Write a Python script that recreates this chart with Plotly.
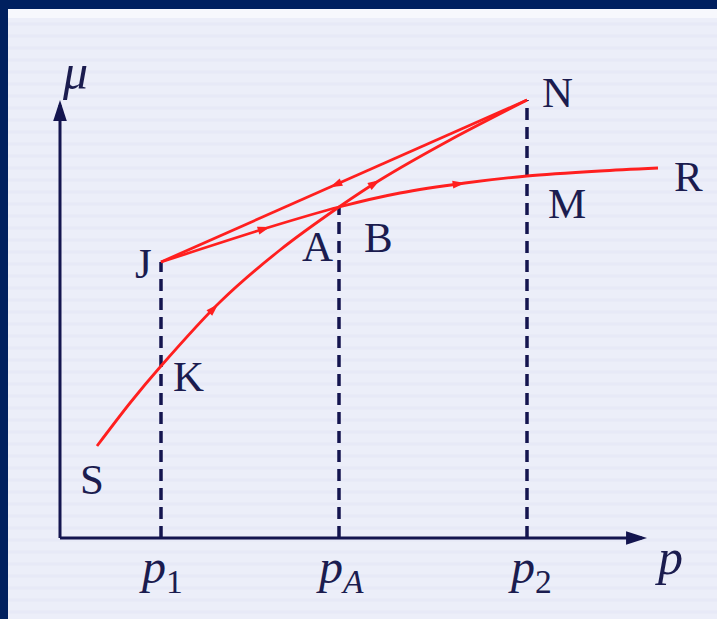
import math
import numpy as np
import plotly.graph_objects as go

# Chemical potential mu against pressure p (arbitrary units)
gas_p = [0.37, 0.70, 1.01, 1.60, 2.20, 2.79, 3.20, 3.90, 4.67]
gas_mu = [0.92, 1.35, 1.72, 2.36, 2.88, 3.31, 3.58, 3.98, 4.38]

liq_p = [1.01, 2.10, 2.79, 3.40, 4.05, 4.67, 5.40, 5.98]
liq_mu = [2.76, 3.11, 3.31, 3.45, 3.55, 3.62, 3.67, 3.70]

unst_p = [4.67, 1.01]
unst_mu = [4.38, 2.76]

# where the direction arrows sit on each branch
gas_arrow_p = [1.58, 3.20]
liq_arrow_p = [2.10, 4.05]
unst_arrow_p = [2.70]

# vertical guides down to the pressure axis
guide_p = [1.01, 2.79, 4.67]
guide_mu = [2.76, 3.31, 4.38]
tick_text = ["<i>p</i><sub>1</sub>", "<i>p<sub>A</sub></i>", "<i>p</i><sub>2</sub>"]

# axis extents
p_axis_end = 5.87
mu_axis_end = 4.38

NAVY = "#14154f"
RED = "#ff1f1f"
TEXT = "#1b1c4f"
SERIF = "Liberation Serif, Times New Roman, serif"

fig = go.Figure()

# dashed guides
for p, mu in zip(guide_p, guide_mu):
    fig.add_trace(go.Scatter(x=[p, p], y=[0, mu], mode="lines",
                             line=dict(color=NAVY, width=3.5, dash="12px,7px"),
                             hoverinfo="skip"))

# axes with arrow tips
fig.add_trace(go.Scatter(x=[0, p_axis_end - 0.05], y=[0, 0], mode="lines",
                         line=dict(color=NAVY, width=3), hoverinfo="skip"))
fig.add_trace(go.Scatter(x=[0, 0], y=[0, mu_axis_end - 0.05], mode="lines",
                         line=dict(color=NAVY, width=3), hoverinfo="skip"))
fig.add_trace(go.Scatter(x=[p_axis_end, 0], y=[0, mu_axis_end], mode="markers",
                         marker=dict(symbol="arrow", size=22, color=NAVY,
                                     angle=[90, 0], line=dict(width=0)),
                         hoverinfo="skip"))

# the three branches
for xs, ys in ((gas_p, gas_mu), (liq_p, liq_mu), (unst_p, unst_mu)):
    fig.add_trace(go.Scatter(x=xs, y=ys, mode="lines",
                             line=dict(color=RED, width=2.8, shape="spline", smoothing=0.8),
                             hoverinfo="skip"))


def arrows_on(xs, ys, at, reverse=False):
    order = np.argsort(xs)
    xa = np.asarray(xs)[order]
    ya = np.asarray(ys)[order]
    px, py, ang = [], [], []
    for p in at:
        mu = float(np.interp(p, xa, ya))
        dp = 0.05
        dmu = float(np.interp(p + dp, xa, ya) - np.interp(p - dp, xa, ya)) / 2
        if reverse:
            dp, dmu = -dp, -dmu
        px.append(p)
        py.append(mu)
        ang.append(math.degrees(math.atan2(dp, dmu)))
    return px, py, ang


arrow_x, arrow_y, arrow_a = [], [], []
for xs, ys, at, rev in ((gas_p, gas_mu, gas_arrow_p, False),
                        (liq_p, liq_mu, liq_arrow_p, False),
                        (unst_p, unst_mu, unst_arrow_p, True)):
    a, b, c = arrows_on(xs, ys, at, rev)
    arrow_x += a
    arrow_y += b
    arrow_a += c

fig.add_trace(go.Scatter(x=arrow_x, y=arrow_y, mode="markers",
                         marker=dict(symbol="arrow", size=13, color=RED,
                                     angle=arrow_a, line=dict(width=0)),
                         hoverinfo="skip"))

# point labels
point_labels = [
    ("S", gas_p[0], gas_mu[0], -5, -33),
    ("K", gas_p[2], gas_mu[2], 27, -10),
    ("A", gas_p[5], gas_mu[5], -22, -39),
    ("B", gas_p[5], gas_mu[5], 39, -30),
    ("J", liq_p[0], liq_mu[0], -18, -1),
    ("N", gas_p[-1], gas_mu[-1], 30, 8),
    ("M", liq_p[5], liq_mu[5], 40, -27),
    ("R", liq_p[-1], liq_mu[-1], 30, -8),
]
annotations = []
for name, x, y, dx, dy in point_labels:
    annotations.append(dict(x=x, y=y, text=name, showarrow=False, xshift=dx, yshift=dy,
                            font=dict(family=SERIF, size=43, color=TEXT)))

for p, t, dx in zip(guide_p, tick_text, [0, 1, 3]):
    annotations.append(dict(x=p, y=0, text=t, showarrow=False, xshift=dx, yshift=-32,
                            font=dict(family=SERIF, size=48, color=TEXT)))

annotations.append(dict(x=0, y=mu_axis_end, text="<i>μ</i>", showarrow=False,
                        xshift=15, yshift=28, font=dict(family=SERIF, size=50, color=TEXT)))
annotations.append(dict(x=p_axis_end, y=0, text="<i>p</i>", showarrow=False,
                        xshift=22, yshift=-19, font=dict(family=SERIF, size=50, color=TEXT)))

# page frame: navy edge with a pale striped panel
W, H = 717, 619
shapes = [
    dict(type="rect", xref="paper", yref="paper", x0=8 / W, x1=1, y0=0, y1=1 - 9 / H,
         fillcolor="#eceef9", line=dict(width=0), layer="below"),
    dict(type="rect", xref="paper", yref="paper", x0=8 / W, x1=1, y0=1 - 18 / H, y1=1 - 9 / H,
         fillcolor="#f7f8fd", line=dict(width=0), layer="below"),
]
for yy in range(24, H, 12):
    shapes.append(dict(type="line", xref="paper", yref="paper", x0=8 / W, x1=1,
                       y0=1 - yy / H, y1=1 - yy / H,
                       line=dict(color="rgba(214,218,240,0.22)", width=3), layer="below"))

fig.update_layout(
    width=W, height=H,
    margin=dict(l=0, r=0, t=0, b=0),
    paper_bgcolor="#00205f",
    plot_bgcolor="rgba(0,0,0,0)",
    showlegend=False,
    xaxis=dict(range=[-0.60, 6.57], visible=False, fixedrange=True),
    yaxis=dict(range=[-0.81, 5.38], visible=False, fixedrange=True),
    annotations=annotations,
    shapes=shapes,
)

fig.write_html("out.html")
